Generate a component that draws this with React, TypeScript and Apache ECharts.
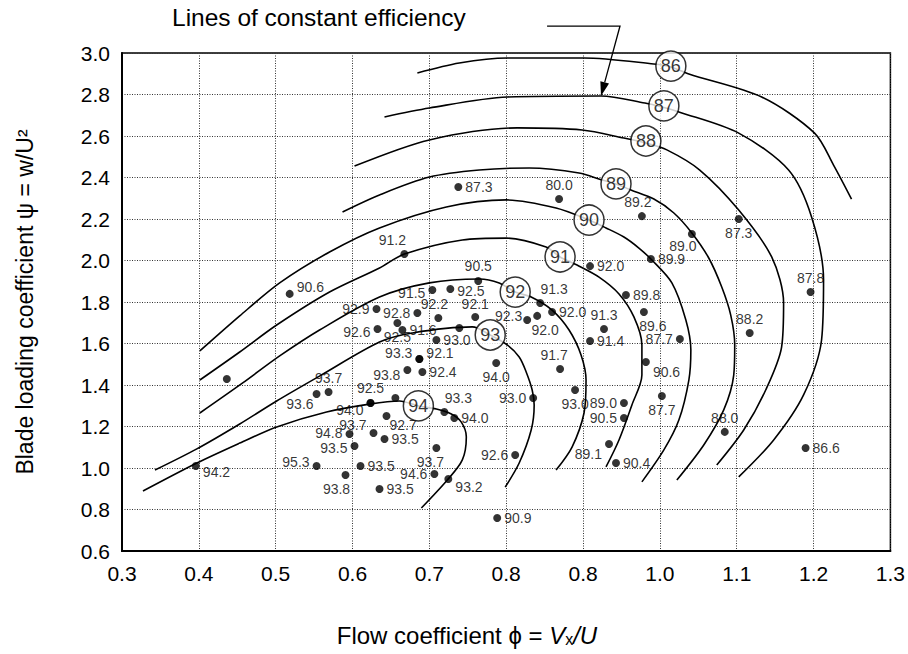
import React, { useEffect, useRef } from 'react';
import * as echarts from 'echarts';

const FONT = 'Liberation Sans, Arial, Helvetica, sans-serif';

// x tick labels exactly as printed in the reference (note the repeated 0.8)
const xTickLabels = ['0.3', '0.4', '0.5', '0.6', '0.7', '0.8', '0.8', '1.0', '1.1', '1.2', '1.3'];
const yTickLabels = ['0.6', '0.8', '1.0', '1.2', '1.4', '1.6', '1.8', '2.0', '2.2', '2.4', '2.6', '2.8', '3.0'];

// measured turbine stages: flow coefficient, loading coefficient, efficiency
const pointPhi = [
  0.7377, 0.8688, 0.9766, 1.1026, 1.0416, 0.9883, 1.1961, 1.1169, 0.9558, 0.9792,
  1.026, 0.9818, 1.0026, 1.0844, 1.1896, 0.9091, 0.8442, 0.8597, 0.8273, 0.8403,
  0.9273, 0.9091, 0.8701, 0.7636, 0.7039, 0.7273, 0.7117, 0.7597, 0.6844, 0.6312,
  0.6325, 0.6649, 0.6584, 0.7091, 0.739, 0.687, 0.687, 0.6714, 0.6909, 0.787,
  0.8351, 0.8896, 0.9532, 0.9532, 0.9338, 0.9429, 0.8117, 0.7195, 0.7325, 0.6234,
  0.6234, 0.6558, 0.6273, 0.5961, 0.6442, 0.6416, 0.6026, 0.5532, 0.5909, 0.6104,
  0.6351, 0.7091, 0.7065, 0.7247, 0.7883, 0.3961, 0.5532, 0.5688, 0.4364, 0.5182,
  0.6675,
];
const pointPsi = [
  2.354, 2.296, 2.214, 2.2, 2.128, 2.007, 1.848, 1.651, 1.834, 1.752,
  1.622, 1.511, 1.347, 1.174, 1.096, 1.973, 1.795, 1.752, 1.713, 1.733,
  1.67, 1.612, 1.477, 1.901, 1.858, 1.863, 1.723, 1.728, 1.747, 1.766,
  1.67, 1.665, 1.699, 1.617, 1.675, 1.525, 1.525, 1.472, 1.463, 1.506,
  1.337, 1.376, 1.313, 1.241, 1.116, 1.024, 1.063, 1.27, 1.241, 1.313,
  1.313, 1.337, 1.169, 1.164, 1.251, 1.14, 1.106, 1.01, 0.966, 1.01,
  0.899, 1.096, 0.971, 0.947, 0.759, 1.01, 1.357, 1.366, 1.429, 1.839,
  2.031,
];
const pointEff = [
  '87.3', '80.0', '89.2', '87.3', '89.0', '89.9', '87.8', '88.2', '89.8', '89.6',
  '87.7', '90.6', '87.7', '88.0', '86.6', '92.0', '91.3', '92.0', '92.3', '92.0',
  '91.3', '91.4', '91.7', '90.5', '91.5', '92.5', '92.2', '92.1', '92.8', '92.9',
  '92.6', '91.6', '92.5', '93.0', '', '93.3', '92.1', '93.8', '92.4', '94.0',
  '93.0', '93.0', '89.0', '90.5', '89.1', '90.4', '92.6', '93.3', '94.0', '92.5',
  '94.0', '', '93.7', '94.8', '92.7', '93.5', '93.5', '95.3', '93.8', '93.5',
  '93.5', '93.7', '94.6', '93.2', '90.9', '94.2', '93.6', '93.7', '', '90.6',
  '91.2',
];
// label placement for each point: [position, dx, dy]
const labelPlacement: [string, number, number][] = [
  ['right', 0, 0], ['top', 0, 0], ['top', -4, 0], ['bottom', 0, 0], ['bottom', -9, -2],
  ['right', 0, 0], ['top', 0, 0], ['top', 0, 0], ['right', 0, 0], ['bottom', 9, 0],
  ['left', 0, 0], ['right', 0, 10], ['bottom', 0, 0], ['top', 0, 0], ['right', 0, 0],
  ['right', 0, 0], ['top', 14, 0], ['right', 0, 0], ['left', 2, -4], ['bottom', 8, 0],
  ['top', 0, 0], ['right', 0, 0], ['top', -6, 0], ['top', 0, -1], ['left', 0, 3],
  ['right', 0, 2], ['top', -4, 0], ['top', 0, 1], ['left', 0, 0], ['left', 0, 0],
  ['left', 0, 3], ['right', 0, 0], ['bottom', 0, 0], ['right', 0, 0], ['right', 0, 0],
  ['left', 0, -6], ['right', 0, -6], ['left', 0, 5], ['right', 0, 0], ['bottom', 0, 0],
  ['left', 0, 0], ['bottom', 0, 0], ['left', 0, 0], ['left', 0, 0], ['left', 0, 10],
  ['right', 0, 0], ['left', 0, 0], ['top', 14, 0], ['right', 0, 0], ['top', 0, -1],
  ['left', 0, 7], ['right', 0, 0], ['left', 0, -8], ['left', 0, -1], ['right', -4, 9],
  ['right', 0, 0], ['left', 0, 2], ['left', 0, -4], ['bottom', -9, 0], ['right', 0, 0],
  ['right', 0, 0], ['bottom', -6, 0], ['left', 0, 0], ['right', 0, 8], ['right', 0, 0],
  ['right', 0, 6], ['left', 4, 10], ['top', 0, 0], ['right', 0, 0], ['right', 0, -7],
  ['top', -12, 0],
];

// lines of constant efficiency [phi, psi]
const contour86 = [
  [0.6844, 2.904], [0.739, 2.952], [0.8013, 2.976], [0.9013, 2.976], [0.9922, 2.947],
  [1.0143, 2.933], [1.0377, 2.899], [1.1325, 2.788], [1.2013, 2.614], [1.226, 2.46], [1.2494, 2.296],
];
const contour87 = [
  [0.6416, 2.692], [0.7, 2.735], [0.8013, 2.788], [0.9234, 2.793], [0.9805, 2.759],
  [1.0026, 2.74], [1.0247, 2.716], [1.1026, 2.614], [1.1675, 2.436], [1.1974, 2.21],
  [1.213, 1.906], [1.2104, 1.617], [1.187, 1.352], [1.1481, 1.135], [1.1026, 0.957],
];
const contour88 = [
  [0.6026, 2.455], [0.7, 2.581], [0.8143, 2.639], [0.8987, 2.629], [0.9532, 2.59],
  [0.9818, 2.566], [1.0091, 2.533], [1.0519, 2.436], [1.1026, 2.243], [1.1455, 2.017],
  [1.161, 1.795], [1.1584, 1.583], [1.1377, 1.376], [1.1091, 1.183], [1.074, 1.014],
];
const contour89 = [
  [0.587, 2.234], [0.6351, 2.316], [0.7, 2.402], [0.7649, 2.436], [0.8299, 2.446],
  [0.8948, 2.422], [0.9247, 2.388], [0.9429, 2.369], [0.9623, 2.34], [0.9922, 2.296],
  [1.0182, 2.229], [1.0416, 2.133], [1.0636, 2.012], [1.0805, 1.872], [1.0922, 1.737],
  [1.0974, 1.593], [1.0961, 1.448], [1.0831, 1.28], [1.0571, 1.111], [1.0221, 0.942],
];
const contour90 = [
  [0.4013, 1.564], [0.4532, 1.733], [0.5052, 1.892], [0.5701, 2.041], [0.6351, 2.157],
  [0.7221, 2.258], [0.8, 2.292], [0.8649, 2.253], [0.9078, 2.195], [0.9299, 2.157],
  [0.9532, 2.113], [0.9727, 2.06], [0.9883, 2.007], [1.0156, 1.892], [1.0338, 1.713],
  [1.0403, 1.569], [1.0377, 1.424], [1.0247, 1.231], [1.0052, 1.087], [0.9766, 0.933],
];
const contour91 = [
  [0.4013, 1.424], [0.4532, 1.559], [0.5013, 1.689], [0.5701, 1.848], [0.6351, 1.964],
  [0.6675, 2.031], [0.7429, 2.099], [0.8, 2.108], [0.8519, 2.065], [0.8701, 2.017],
  [0.8922, 1.978], [0.9208, 1.92], [0.9468, 1.839], [0.9662, 1.728], [0.9766, 1.593],
  [0.9766, 1.448], [0.9636, 1.304], [0.9468, 1.135], [0.9299, 1.005],
];
const contour92 = [
  [0.4013, 1.265], [0.4571, 1.41], [0.5052, 1.54], [0.5571, 1.665], [0.6351, 1.824],
  [0.7, 1.892], [0.7649, 1.911], [0.7909, 1.892], [0.8117, 1.848], [0.8325, 1.824],
  [0.8597, 1.761], [0.8818, 1.665], [0.8974, 1.545], [0.9039, 1.424], [0.9013, 1.265],
  [0.8857, 1.101], [0.8649, 0.99],
];
const contour93 = [
  [0.3429, 0.99], [0.3974, 1.092], [0.4532, 1.212], [0.5013, 1.323], [0.5571, 1.443],
  [0.6351, 1.607], [0.6779, 1.651], [0.7558, 1.68], [0.7792, 1.641], [0.8013, 1.593],
  [0.8169, 1.535], [0.826, 1.463], [0.8338, 1.376], [0.8364, 1.304], [0.8325, 1.183],
  [0.8169, 1.024], [0.7987, 0.908],
];
const contour94 = [
  [0.3273, 0.889], [0.3974, 1.024], [0.4532, 1.12], [0.5013, 1.198], [0.5662, 1.27],
  [0.6221, 1.308], [0.661, 1.323], [0.6857, 1.299], [0.7091, 1.284], [0.7286, 1.26],
  [0.7416, 1.221], [0.7481, 1.15], [0.7429, 1.039], [0.7234, 0.942], [0.6896, 0.807],
];
const contours = [contour86, contour87, contour88, contour89, contour90, contour91, contour92, contour93, contour94];

// efficiency tags on the lines
const tagEff = ['86', '87', '88', '89', '90', '91', '92', '93', '94'];
const tagPhi = [1.0143, 1.0052, 0.9818, 0.9429, 0.9078, 0.8701, 0.8117, 0.7792, 0.6857];
const tagPsi = [2.937, 2.745, 2.576, 2.369, 2.195, 2.017, 1.848, 1.641, 1.299];

// callout arrow target on the 87 % line and callout bend (above the plot)
const calloutTip = [0.9234, 2.793];
const calloutBend = [0.9481, 3.13];
const calloutStart = [0.8532, 3.13];

export default function App() {
  const ref = useRef<HTMLDivElement>(null);
  useEffect(() => {
    if (!ref.current) return;
    const chart = echarts.init(ref.current, undefined, { renderer: 'svg' });
    const series: any[] = contours.map((c) => ({
      type: 'line',
      data: c,
      smooth: 0.3,
      showSymbol: false,
      symbol: 'none',
      silent: true,
      lineStyle: { color: '#000', width: 1.6 },
      z: 2,
    }));
    series.push({
      type: 'scatter',
      symbolSize: 8,
      itemStyle: { color: '#000' },
      z: 3,
      label: { show: true, formatter: '{b}', fontSize: 14, color: '#000', fontFamily: FONT, distance: 3 },
      data: pointPhi.map((x, i) => ({
        value: [x, pointPsi[i]],
        name: pointEff[i],
        label: {
          show: pointEff[i] !== '',
          position: labelPlacement[i][0],
          offset: [labelPlacement[i][1], labelPlacement[i][2]],
        },
      })),
    });
    series.push({
      type: 'scatter',
      symbol: 'circle',
      symbolSize: 30,
      z: 5,
      itemStyle: { color: '#fff', borderColor: '#000', borderWidth: 1.5 },
      label: { show: true, position: 'inside', formatter: '{b}', fontSize: 18, color: '#000', fontFamily: FONT },
      data: tagPhi.map((x, i) => ({ value: [x, tagPsi[i]], name: tagEff[i] })),
    });

    chart.setOption({
      animation: false,
      backgroundColor: '#fff',
      textStyle: { fontFamily: FONT },
      grid: { left: 122, right: 16, top: 53, bottom: 103, show: true, borderColor: '#000', borderWidth: 1.5 },
      xAxis: {
        type: 'value',
        min: 0.3,
        max: 1.3,
        interval: 0.1,
        axisLine: { show: true, lineStyle: { color: '#000', width: 2 } },
        axisTick: { show: false },
        axisLabel: {
          color: '#000',
          fontSize: 21,
          fontFamily: FONT,
          margin: 12,
          formatter: (v: number) => xTickLabels[Math.round((v - 0.3) / 0.1)] ?? '',
        },
        splitLine: { show: true, lineStyle: { color: '#333', type: [1, 1.5], width: 1 } },
      },
      yAxis: {
        type: 'value',
        min: 0.6,
        max: 3.0,
        interval: 0.2,
        name: 'Blade loading coefficient ψ = w/U²',
        nameLocation: 'middle',
        nameGap: 86,
        nameTextStyle: { fontSize: 23, color: '#000', fontFamily: FONT },
        axisLine: { show: true, lineStyle: { color: '#000', width: 2 } },
        axisTick: { show: false },
        axisLabel: {
          color: '#000',
          fontSize: 21,
          fontFamily: FONT,
          margin: 12,
          formatter: (v: number) => yTickLabels[Math.round((v - 0.6) / 0.2)] ?? '',
        },
        splitLine: { show: true, lineStyle: { color: '#333', type: [1, 1.5], width: 1 } },
      },
      series,
    });

    const tip = chart.convertToPixel({ gridIndex: 0 }, calloutTip) as number[];
    const bend = chart.convertToPixel({ gridIndex: 0 }, calloutBend) as number[];
    const start = chart.convertToPixel({ gridIndex: 0 }, calloutStart) as number[];
    const dx = tip[0] - bend[0];
    const dy = tip[1] - bend[1];
    const len = Math.sqrt(dx * dx + dy * dy);
    const ux = dx / len;
    const uy = dy / len;
    const headLen = 14;
    const headW = 4.5;
    const bx = tip[0] - ux * headLen;
    const by = tip[1] - uy * headLen;
    chart.setOption({
      graphic: [
        {
          type: 'text',
          left: 172,
          top: 5,
          style: { text: 'Lines of constant efficiency', fontSize: 24.5, fill: '#000', fontFamily: FONT },
        },
        {
          type: 'polyline',
          shape: { points: [start, bend, [bx, by]] },
          style: { stroke: '#000', lineWidth: 1.3, fill: null },
          z: 10,
        },
        {
          type: 'polygon',
          shape: {
            points: [
              [tip[0], tip[1]],
              [bx - uy * headW, by + ux * headW],
              [bx + uy * headW, by - ux * headW],
            ],
          },
          style: { fill: '#000' },
          z: 10,
        },
        {
          type: 'text',
          x: 467,
          y: 632,
          style: {
            text: '{n|Flow coefficient ϕ = }{i|V}{s|x}{i|/U}',
            align: 'center',
            verticalAlign: 'middle',
            fill: '#000',
            fontFamily: FONT,
            fontSize: 24,
            rich: {
              n: { fontSize: 24, fontFamily: FONT, lineHeight: 30, verticalAlign: 'bottom' },
              i: { fontSize: 24, fontFamily: FONT, fontStyle: 'italic', lineHeight: 30, verticalAlign: 'bottom' },
              s: { fontSize: 16, fontFamily: FONT, lineHeight: 14, verticalAlign: 'bottom' },
            },
          },
        },
      ],
    });

    return () => chart.dispose();
  }, []);
  return <div ref={ref} style={{ position: 'absolute', left: 0, top: 0, width: 908, height: 654 }} />;
}
